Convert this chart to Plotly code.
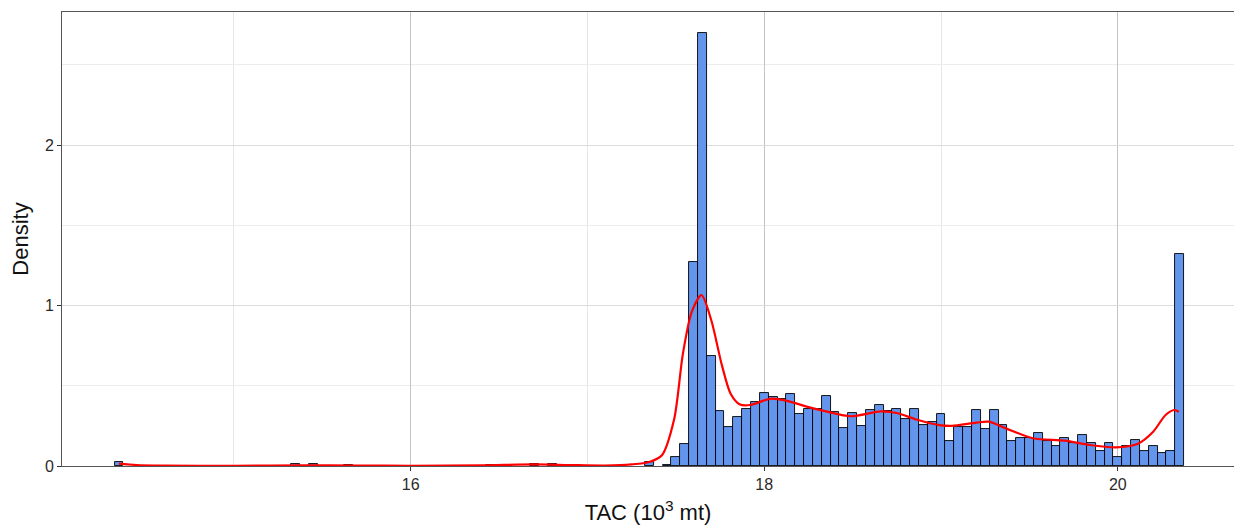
import plotly.graph_objects as go

# Histogram (density) bins: centres and densities, bin width 0.05 (10^3 mt)
bin_width = 0.05
bin_centers = [14.35, 15.35, 15.45, 15.65, 16.45, 16.55, 16.70, 16.80, 17.35, 17.45,
               17.50, 17.55, 17.60, 17.65, 17.70, 17.75, 17.80, 17.85, 17.90, 17.95,
               18.00, 18.05, 18.10, 18.15, 18.20, 18.25, 18.30, 18.35, 18.40, 18.45,
               18.50, 18.55, 18.60, 18.65, 18.70, 18.75, 18.80, 18.85, 18.90, 18.95,
               19.00, 19.05, 19.10, 19.15, 19.20, 19.25, 19.30, 19.35, 19.40, 19.45,
               19.50, 19.55, 19.60, 19.65, 19.70, 19.75, 19.80, 19.85, 19.90, 19.95,
               20.00, 20.05, 20.10, 20.15, 20.20, 20.25, 20.30, 20.35]
bin_density = [0.025, 0.010, 0.010, 0.008, 0.008, 0.008, 0.015, 0.015, 0.027, 0.006,
               0.054, 0.135, 1.269, 2.696, 0.687, 0.345, 0.245, 0.305, 0.357, 0.399,
               0.457, 0.428, 0.415, 0.447, 0.326, 0.357, 0.357, 0.436, 0.339, 0.235,
               0.328, 0.251, 0.347, 0.378, 0.343, 0.355, 0.295, 0.355, 0.255, 0.276,
               0.326, 0.158, 0.245, 0.245, 0.347, 0.228, 0.347, 0.255, 0.158, 0.175,
               0.172, 0.206, 0.156, 0.125, 0.177, 0.143, 0.193, 0.145, 0.096, 0.145,
               0.053, 0.125, 0.164, 0.094, 0.125, 0.083, 0.094, 1.319]

# Kernel density curve
kde_x = [14.35, 14.45, 14.6, 15.0, 15.4, 15.7, 16.0, 16.4, 16.7, 16.9, 17.1, 17.25,
         17.35, 17.42, 17.49, 17.54, 17.59, 17.645, 17.70, 17.76, 17.81, 17.86, 17.92,
         18.04, 18.15, 18.24, 18.35, 18.49, 18.66, 18.75, 18.86, 18.99, 19.06, 19.2,
         19.27, 19.37, 19.52, 19.7, 19.84, 19.99, 20.11, 20.2, 20.27, 20.32, 20.345]
kde_y = [0.015, 0.006, 0.002, 0.001, 0.004, 0.003, 0.001, 0.004, 0.010, 0.006, 0.003, 0.010,
         0.025, 0.065, 0.29, 0.70, 0.96, 1.065, 0.91, 0.63, 0.45, 0.385, 0.38,
         0.42, 0.40, 0.37, 0.34, 0.31, 0.34, 0.33, 0.29, 0.255, 0.25, 0.27,
         0.276, 0.233, 0.173, 0.158, 0.131, 0.116, 0.137, 0.214, 0.318, 0.349, 0.338]

x_ticks = [16, 18, 20]
y_ticks = [0, 1, 2]

fig = go.Figure()
fig.add_trace(go.Bar(
    x=bin_centers, y=bin_density, width=bin_width,
    marker=dict(color="#6495ED", line=dict(color="#000000", width=0.9)),
    hoverinfo="x+y", showlegend=False,
))
fig.add_trace(go.Scatter(
    x=kde_x, y=kde_y, mode="lines",
    line=dict(color="#FF0000", width=2.2, shape="spline", smoothing=0.8),
    showlegend=False,
))

font_family = "Liberation Sans, Arial, sans-serif"
fig.update_layout(
    width=1234, height=532,
    margin=dict(l=62, r=0, t=12, b=66),
    paper_bgcolor="white", plot_bgcolor="white",
    font=dict(family=font_family, size=16, color="#333333"),
    bargap=0,
    xaxis=dict(
        range=[14.028, 20.657],
        tickvals=x_ticks, ticktext=[str(v) for v in x_ticks],
        showgrid=True, gridcolor="#c4c4c4", gridwidth=1,
        minor=dict(tickvals=[15, 17, 19], showgrid=True, gridcolor="#e6e6e6", gridwidth=1, ticks=""),
        ticks="outside", ticklen=4, tickcolor="#333333", tickwidth=1,
        tickfont=dict(size=16, color="#2b2b2b"),
        showline=True, linecolor="#555555", linewidth=1, mirror=True,
        zeroline=False,
        title=dict(text="TAC (10<sup>3</sup> mt)", font=dict(size=22, color="#111111"), standoff=12),
    ),
    yaxis=dict(
        range=[0, 2.829],
        tickvals=y_ticks, ticktext=[str(v) for v in y_ticks],
        showgrid=True, gridcolor="#dcdcdc", gridwidth=1,
        minor=dict(tickvals=[0.5, 1.5, 2.5], showgrid=True, gridcolor="#ececec", gridwidth=1, ticks=""),
        ticks="outside", ticklen=4, tickcolor="#333333", tickwidth=1,
        tickfont=dict(size=16, color="#2b2b2b"),
        showline=True, linecolor="#555555", linewidth=1, mirror=True,
        zeroline=False,
        title=dict(text="Density", font=dict(size=22, color="#111111"), standoff=10),
    ),
)

fig.write_html("out.html")
